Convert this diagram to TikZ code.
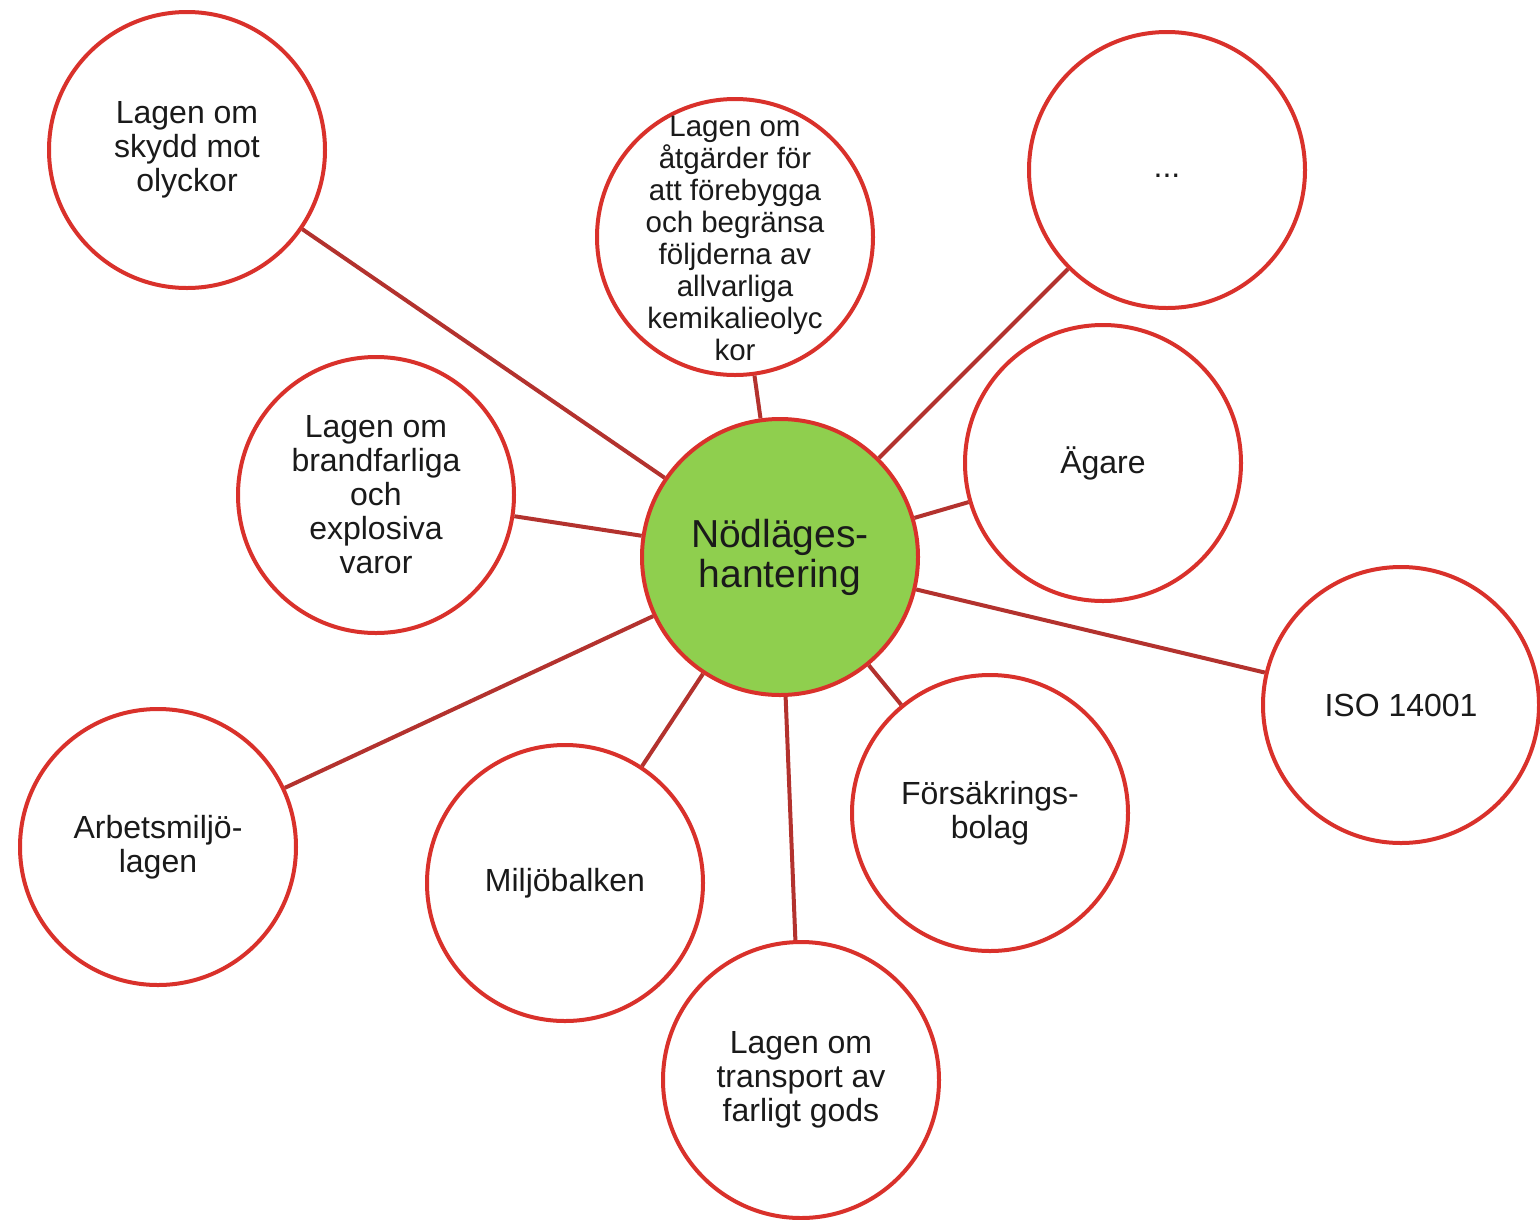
\documentclass[tikz,border=0pt]{standalone}
\usepackage{fontspec}
\setmainfont{Liberation Sans}
\definecolor{ringred}{HTML}{D9312B}
\definecolor{linered}{HTML}{B3322E}
\definecolor{hubgreen}{HTML}{8FCF4E}
\definecolor{txt}{HTML}{1A1A1A}
\begin{document}
\begin{tikzpicture}[x=1pt,y=-1pt,
  bubble/.style={circle,draw=ringred,line width=4pt,fill=white,minimum size=276pt,inner sep=0pt,align=center,text=txt,font=\fontsize{32}{34}\selectfont},
  hub/.style={bubble,fill=hubgreen,font=\fontsize{39}{40}\selectfont},
  smalltext/.style={inner sep=0pt,align=center,text=txt,font=\fontsize{29.5}{32}\selectfont},
  link/.style={draw=linered,line width=4pt}]
\useasboundingbox (0,0) rectangle (1540,1219);
\node[hub] (c) at (780,557) {Nödläges-\\hantering};
\node[bubble] (s1) at (187,150) {Lagen om\\skydd mot\\olyckor};
\node[bubble] (s2) at (735,237) {};
\node[smalltext] (s2t) at (735,238) {Lagen om\\åtgärder för\\att förebygga\\och begränsa\\följderna av\\allvarliga\\kemikalieolyc\\kor};
\node[bubble] (s3) at (1167,170) {};
\node[smalltext,font=\fontsize{32}{34}\selectfont] (s3t) at (1167,176) {...};
\node[bubble] (s4) at (376,495) {Lagen om\\brandfarliga\\och\\explosiva\\varor};
\node[bubble] (s5) at (1103,463) {Ägare};
\node[bubble] (s6) at (1401,705) {ISO 14001};
\node[bubble] (s7) at (990,813) {Försäkrings-\\bolag};
\node[bubble] (s8) at (565,883) {Miljöbalken};
\node[bubble] (s9) at (158,847) {Arbetsmiljö-\\lagen};
\node[bubble] (s10) at (801,1080) {Lagen om\\transport av\\farligt gods};
\foreach \n in {s1,s2,s3,s4,s5,s6,s7,s8,s9,s10}
  \draw[link] (c) -- (\n);
\end{tikzpicture}
\end{document}
